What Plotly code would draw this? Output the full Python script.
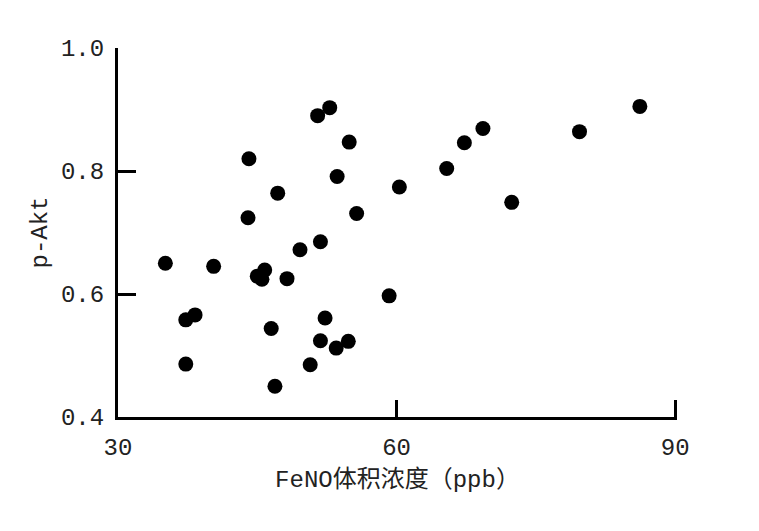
import plotly.graph_objects as go

feno = [52.8, 51.5, 54.9, 44.1, 53.6, 60.3, 47.2, 44.0, 55.7, 51.8, 49.6, 35.1, 40.3,
        45.8, 45.0, 45.5, 48.2, 59.2, 38.3, 37.3, 52.3, 46.5, 51.8, 54.8, 53.5, 37.3,
        50.7, 46.9, 86.2, 79.7, 69.3, 67.3, 65.4, 72.4]
pakt = [0.903, 0.890, 0.847, 0.820, 0.791, 0.774, 0.764, 0.724, 0.731, 0.685, 0.672,
        0.650, 0.645, 0.639, 0.629, 0.624, 0.625, 0.597, 0.566, 0.558, 0.561, 0.544,
        0.524, 0.523, 0.512, 0.486, 0.485, 0.450, 0.905, 0.864, 0.869, 0.846, 0.804, 0.749]

x_ticks = [30, 60, 90]
y_ticks = [0.4, 0.6, 0.8, 1.0]
y_ticklabels = ["0.4", "0.6", "0.8", "1.0"]
x_title = "FeNO体积浓度（ppb）"
y_title = "p-Akt"

FONT = "Liberation Mono, Noto Sans CJK SC, monospace"

fig = go.Figure(go.Scatter(
    x=feno, y=pakt, mode="markers",
    marker=dict(color="black", size=15, line=dict(width=0)),
    hoverinfo="x+y",
))

fig.update_layout(
    width=759, height=531,
    margin=dict(l=110, r=90, t=40, b=122),
    paper_bgcolor="white", plot_bgcolor="white",
    showlegend=False,
    font=dict(family=FONT, color="#222", size=24),
)
fig.update_xaxes(
    range=[30, 90.2], tickvals=x_ticks, ticktext=[str(v) for v in x_ticks],
    showgrid=False, zeroline=False,
    showline=True, linecolor="black", linewidth=3,
    ticks="inside", ticklen=17, tickwidth=3, tickcolor="black",
    ticklabelstandoff=6, automargin=False,
    tickfont=dict(family=FONT, size=24, color="#222"),
    title=dict(text=x_title, font=dict(family=FONT, size=24, color="#222"), standoff=10),
)
fig.update_yaxes(
    range=[0.4, 1.0], tickvals=y_ticks, ticktext=y_ticklabels,
    showgrid=False, zeroline=False,
    showline=True, linecolor="black", linewidth=3,
    ticks="inside", ticklen=18, tickwidth=3, tickcolor="black",
    ticklabelstandoff=6, automargin=False,
    tickfont=dict(family=FONT, size=24, color="#222"),
    title=dict(text=y_title, font=dict(family=FONT, size=24, color="#222"), standoff=7),
)

fig.write_html("out.html")
